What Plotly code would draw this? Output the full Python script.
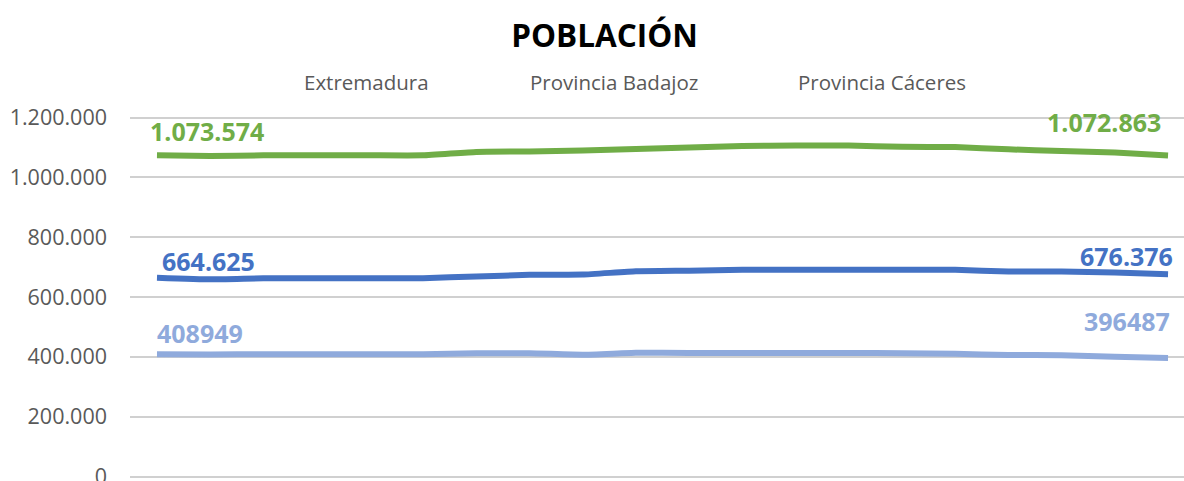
import plotly.graph_objects as go

years = ["1999", "2000", "2001", "2002", "2003", "2004", "2005", "2006", "2007", "2008",
         "2009", "2010", "2011", "2012", "2013", "2014", "2015", "2016", "2017", "2018"]
extremadura = [1073574, 1071000, 1073500, 1073500, 1073500, 1073500, 1085000, 1086500, 1089500, 1095000,
               1100000, 1105000, 1106500, 1106500, 1102000, 1101000, 1093500, 1088000, 1083000, 1072863]
badajoz = [664625, 659000, 662500, 662500, 662500, 663000, 668500, 674000, 675000, 686000,
           688000, 691000, 691000, 691000, 691000, 691000, 685000, 685000, 682000, 676376]
caceres = [408949, 408000, 408500, 408500, 408500, 408500, 411700, 412000, 407000, 413500,
           413000, 413000, 413000, 413000, 412000, 410000, 406000, 405500, 400000, 396487]
series_names = ["Extremadura", "Provincia Badajoz", "Provincia Cáceres"]
label_first = ["1.073.574", "664.625", "408949"]
label_last = ["1.072.863", "676.376", "396487"]
colors = ["#70AD47", "#4472C4", "#8FAADC"]

W, H = 1184, 481
L, R, T, B = 130, 0, 115.5, 2.5

fig = go.Figure()
all_series = [extremadura, badajoz, caceres]
for name, vals, col in zip(series_names, all_series, colors):
    fig.add_trace(go.Scatter(
        x=years, y=vals, mode="lines", name=name,
        line=dict(color=col, width=6, shape="spline", smoothing=0.4),
        showlegend=False, hoverinfo="skip"))

lab_font = "Open Sans"
first_idx, last_idx = 0, len(years) - 1
# data labels
first_shift = [(-9, 24), (3, 17), (-2, 21)]
last_shift = [(-5, 34), (7, 18), (4, 37)]
for i, (vals, col) in enumerate(zip(all_series, colors)):
    fig.add_annotation(x=first_idx, y=vals[0], text=label_first[i], showarrow=False,
                       xanchor="left", yanchor="middle",
                       xshift=first_shift[i][0], yshift=first_shift[i][1],
                       font=dict(family=lab_font, size=25, color=col, weight="bold"))
    fig.add_annotation(x=last_idx, y=vals[-1], text=label_last[i], showarrow=False,
                       xanchor="right", yanchor="middle",
                       xshift=last_shift[i][0], yshift=last_shift[i][1],
                       font=dict(family=lab_font, size=25, color=col, weight="bold"))

# legend-like labels (text only)
plot_w = W - L - R
plot_h = H - T - B
legend_px = [366.5, 613.5, 882]
for name, px in zip(series_names, legend_px):
    fig.add_annotation(xref="paper", yref="paper",
                       x=(px - L) / plot_w, y=(H - B - 81) / plot_h,
                       text=name, showarrow=False, xanchor="center", yanchor="middle",
                       font=dict(family=lab_font, size=20.5, color="#595959"))

fig.update_layout(
    width=W, height=H,
    margin=dict(l=L, r=R, t=T, b=B, pad=0, autoexpand=False),
    paper_bgcolor="white", plot_bgcolor="white",
    separators=",.",
    title=dict(text="<b>POBLACIÓN</b>", x=604.5 / W, xanchor="center",
               y=1 - 36 / H, yanchor="middle", yref="container",
               font=dict(family=lab_font, size=31.5, color="black")),
    xaxis=dict(type="category", range=[-0.507, 19.3], showticklabels=False, automargin=False,
               showgrid=False, zeroline=False, showline=False, ticks=""),
    yaxis=dict(range=[-5000, 1205000], tickvals=[0, 200000, 400000, 600000, 800000, 1000000, 1200000],
               tickformat=",d", showgrid=True, gridcolor="#D0D0D0", gridwidth=2,
               zeroline=False, showline=False, ticks="", ticklabelstandoff=22,
               ticklabeloverflow="allow", automargin=False,
               tickfont=dict(family=lab_font, size=21.5, color="#595959")),
)

fig.write_html("out.html", config={"displayModeBar": False},
               post_script="document.body.style.margin='0';")
